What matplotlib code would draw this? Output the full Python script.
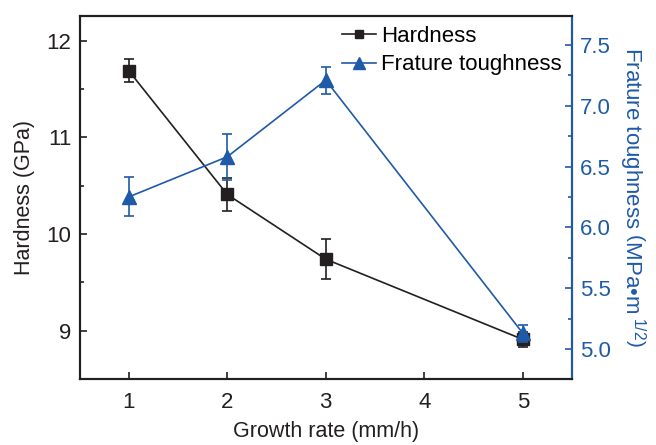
import matplotlib
matplotlib.use("Agg")
import matplotlib.pyplot as plt
from matplotlib.ticker import MultipleLocator
from matplotlib.lines import Line2D

plt.rcParams['font.family'] = ['Liberation Sans', 'DejaVu Sans']
plt.rcParams['mathtext.fontset'] = 'custom'
plt.rcParams['mathtext.rm'] = 'Liberation Sans'
plt.rcParams['mathtext.it'] = 'Liberation Sans'

# data
growth_rate = [1, 2, 3, 5]
hardness = [11.69, 10.41, 9.74, 8.91]
hardness_err = [0.12, 0.17, 0.21, 0.08]
toughness = [6.25, 6.58, 7.21, 5.13]
toughness_err = [0.16, 0.19, 0.11, 0.07]

black = '#231f20'
blue = '#1f5aa8'

fig = plt.figure(figsize=(6.56, 4.45), dpi=100)
ax = fig.add_axes([79.5/656, 1 - 379/445, (572-79.5)/656, (379-15.7)/445])
ax2 = ax.twinx()

ax.errorbar(growth_rate, hardness, yerr=hardness_err, color=black, marker='s',
            markersize=8, lw=1.2, elinewidth=1.2, capsize=3.5, capthick=1.2)
ax2.errorbar(growth_rate, toughness, yerr=toughness_err, color=blue, marker='^',
             markersize=10, lw=1.2, elinewidth=1.2, capsize=3.5, capthick=1.2)

ax.set_xlim(0.5, 5.5)
ax.set_ylim(8.5, 12.26)
ax2.set_ylim(4.753, 7.74)
ax.set_xticks([1, 2, 3, 4, 5])
ax.set_yticks([9, 10, 11, 12])
ax.yaxis.set_minor_locator(MultipleLocator(0.5))
ax2.set_yticks([5.0, 5.5, 6.0, 6.5, 7.0, 7.5])
ax2.yaxis.set_minor_locator(MultipleLocator(0.25))
ax2.set_yticklabels(['5.0', '5.5', '6.0', '6.5', '7.0', '7.5'])

for a in (ax, ax2):
    for s in a.spines.values():
        s.set_linewidth(1.5)
        s.set_color(black)
ax2.spines['right'].set_color(blue)

ax.tick_params(axis='both', which='major', direction='in', length=5, width=1.2,
               labelsize=16, colors=black, pad=6)
ax.tick_params(axis='x', pad=9)
ax.tick_params(axis='y', which='minor', direction='in', length=3, width=1.2, colors=black)
ax.tick_params(axis='x', top=False)
ax2.tick_params(axis='y', which='major', direction='in', length=5, width=1.2,
                labelsize=16, colors=blue, pad=6)
ax2.tick_params(axis='y', which='minor', direction='in', length=3, width=1.2, colors=blue)

ax.set_xlabel('Growth rate (mm/h)', fontsize=15.5, color=black, labelpad=6)
ax.set_ylabel('Hardness (GPa)', fontsize=15.5, color=black, labelpad=8)
ax2.set_ylabel('Frature toughness ' + r'$\left(\mathrm{MPa•m}^{\ 1/2}\right)$',
               fontsize=16, color=blue, rotation=270, labelpad=26)

handles = [Line2D([], [], color=black, marker='s', markersize=6, lw=1.2),
           Line2D([], [], color=blue, marker='^', markersize=8, lw=1.2)]
ax.legend(handles, ['Hardness', 'Frature toughness'], loc='upper right',
          bbox_to_anchor=(1.0, 1.0), frameon=False, fontsize=16,
          handlelength=1.5, handletextpad=0.25, borderaxespad=0.05, labelspacing=0.35)

fig.savefig('out.png', dpi=100)
